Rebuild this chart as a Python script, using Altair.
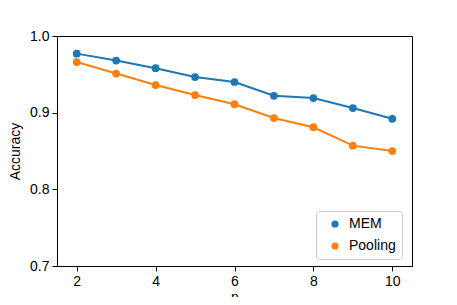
import altair as alt
import pandas as pd

n_values = [2, 3, 4, 5, 6, 7, 8, 9, 10]
mem = [0.977, 0.968, 0.958, 0.9465, 0.940, 0.922, 0.919, 0.906, 0.892]
pooling = [0.966, 0.951, 0.936, 0.923, 0.911, 0.893, 0.881, 0.857, 0.850]
series = ["MEM", "Pooling"]
colors = ["#1f77b4", "#ff7f0e"]

rows = []
for name, vals in zip(series, [mem, pooling]):
    for n, v in zip(n_values, vals):
        rows.append({"n": n, "Accuracy": v, "series": name})
df = pd.DataFrame(rows)

FONT = "Liberation Sans"

x = alt.X("n:Q", title="n", scale=alt.Scale(domain=[1.5, 10.5], nice=False, zero=False),
          axis=alt.Axis(values=[2, 4, 6, 8, 10], format="d", grid=False, tickSize=5,
                        labelPadding=3, titlePadding=2))
y = alt.Y("Accuracy:Q", title="Accuracy", scale=alt.Scale(domain=[0.7, 1.0], nice=False, zero=False),
          axis=alt.Axis(values=[0.7, 0.8, 0.9, 1.0], format=".1f", grid=False, tickSize=5,
                        labelPadding=3, titlePadding=7))
color = alt.Color("series:N", scale=alt.Scale(domain=series, range=colors),
                  legend=alt.Legend(title=None, orient="none", legendX=259, legendY=175,
                                    symbolType="circle", symbolSize=52, symbolOffset=6,
                                    symbolStrokeWidth=0, symbolOpacity=1,
                                    padding=6, rowPadding=8, labelOffset=7,
                                    strokeColor="#cccccc", cornerRadius=3,
                                    fillColor="rgba(255,255,255,0.8)"))

base = alt.Chart(df)
lines = base.mark_line(strokeWidth=2).encode(x=x, y=y, color=color)
points = base.mark_circle(size=60, opacity=1).encode(x=x, y=y, color=color)

chart = (lines + points).properties(
    width=355, height=230,
    autosize=alt.AutoSizeParams(type="none"),
    padding={"left": 49, "top": 28, "right": 37, "bottom": 31},
).configure_view(stroke="black", strokeWidth=1
).configure_axis(
    domainColor="black", tickColor="black", labelColor="black", titleColor="black",
    labelFont=FONT, titleFont=FONT, labelFontSize=14, titleFontSize=14,
    titleFontWeight="normal", domainWidth=1, tickWidth=1,
).configure_legend(labelFont=FONT, labelFontSize=14, labelColor="black")

chart.save("out.html", embed_options={"renderer": "svg", "actions": False})
